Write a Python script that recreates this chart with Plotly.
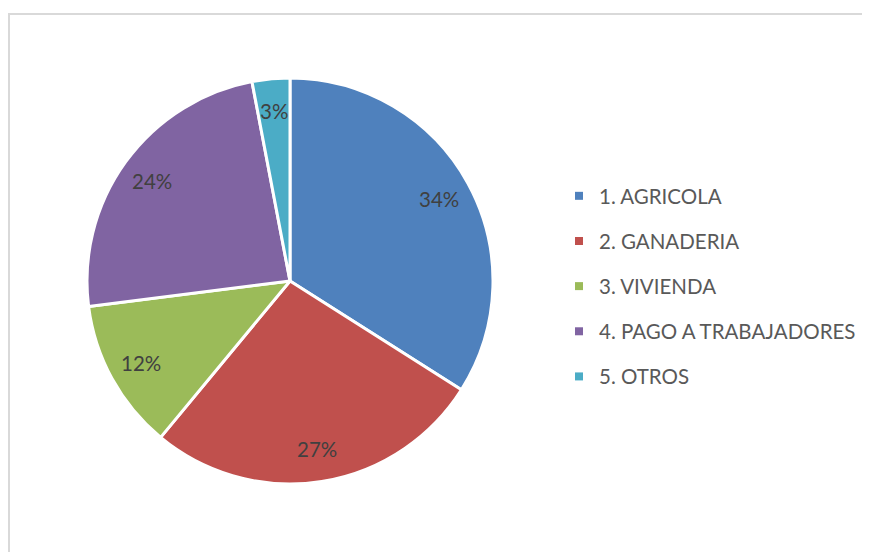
import math
import plotly.graph_objects as go

categories = ["1. AGRICOLA", "2. GANADERIA", "3. VIVIENDA", "4. PAGO A TRABAJADORES", "5. OTROS"]
values = [34, 27, 12, 24, 3]
colors = ["#4F81BD", "#C0504D", "#9BBB59", "#8064A2", "#4BACC6"]

OFF = 8  # page body margin
W, H = 870 - OFF, 552 - OFF
cx, cy, R = 290 - OFF, 281 - OFF, 203  # pie centre / radius in figure pixels

fig = go.Figure()
fig.add_trace(go.Pie(
    labels=categories, values=values, sort=False, direction="clockwise", rotation=0,
    marker=dict(colors=colors, line=dict(color="white", width=3)),
    textinfo="none", hoverinfo="label+percent", showlegend=False,
    domain=dict(x=[(cx - R) / W, (cx + R) / W], y=[1 - (cy + R) / H, 1 - (cy - R) / H]),
))

# data labels placed along each slice's bisector
total = sum(values)
cum = 0
for v in values:
    mid = (cum + v / 2) / total * 2 * math.pi
    cum += v
    rr = 0.84 * R
    px = cx + rr * math.sin(mid)
    py = cy - rr * math.cos(mid)
    fig.add_annotation(x=px / W, y=1 - py / H, xref="paper", yref="paper",
                       xanchor="center", yanchor="middle",
                       text=f"{round(v / total * 100)}%", showarrow=False,
                       font=dict(size=20.5, color="#404040"))

for name, c in zip(categories, colors):
    fig.add_trace(go.Scatter(x=[None], y=[None], mode="markers", name=name, legendgroup=name,
                             marker=dict(symbol="square", size=8, color=c)))

fig.add_shape(type="rect", xref="paper", yref="paper", x0=1 / W, x1=1.05, y0=-0.05,
              y1=1 - (14 - OFF) / H, line=dict(color="#D9D9D9", width=2), fillcolor="rgba(0,0,0,0)")

fig.update_layout(
    width=W, height=H, margin=dict(l=0, r=0, t=0, b=0),
    paper_bgcolor="white", plot_bgcolor="white",
    font=dict(family="Lato, Carlito, sans-serif", color="#595959", size=20.5),
    xaxis=dict(visible=False), yaxis=dict(visible=False),
    legend=dict(x=(559 - OFF) / W, y=1 - (176 - OFF) / H, xanchor="left", yanchor="top",
                tracegroupgap=15.5, font=dict(size=20.5, color="#595959"), itemwidth=30),
)

fig.write_html("out.html")
